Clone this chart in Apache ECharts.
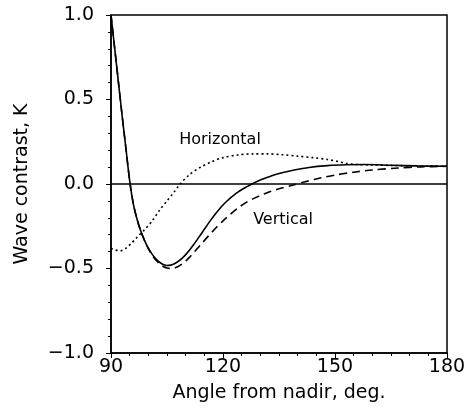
<!DOCTYPE html>
<html>
<head>
<meta charset="utf-8">
<script src="https://cdn.jsdelivr.net/npm/echarts@6/dist/echarts.min.js"></script>
<style>
  html, body { margin: 0; padding: 0; background: #fff; }
  #chart { width: 470px; height: 408px; }
</style>
</head>
<body>
<div id="chart"></div>
<script>
// Total wave contrast (solid)
const totalAngles = [90, 91, 92, 93, 94, 95, 96, 97, 98, 99, 100, 101, 102, 103, 104, 105, 106, 107, 108, 109, 110, 111, 112, 113, 114, 115, 116, 117, 118, 119, 120, 121, 122, 123, 124, 125, 126, 127, 128, 130, 132.6, 135, 138.8, 143, 148, 153, 158, 165, 172, 180];
const totalValues = [1.0, 0.80, 0.60, 0.40, 0.21, 0.02, -0.12, -0.21, -0.28, -0.335, -0.38, -0.415, -0.443, -0.463, -0.476, -0.482, -0.48, -0.472, -0.458, -0.44, -0.418, -0.392, -0.363, -0.332, -0.3, -0.268, -0.236, -0.205, -0.176, -0.149, -0.124, -0.102, -0.082, -0.064, -0.048, -0.034, -0.021, -0.009, 0.003, 0.024, 0.045, 0.062, 0.081, 0.098, 0.109, 0.114, 0.115, 0.111, 0.107, 0.105];

// Vertical polarization (dashed)
const verticalAngles = [90, 91, 92, 93, 94, 95, 96, 97, 98, 99, 100, 101, 102, 103, 104, 105, 106, 107, 108, 109, 110, 111, 112, 113, 114, 116, 118, 120, 122, 124, 126, 128, 130, 132, 134.4, 138.8, 142, 146, 150, 155, 160, 167, 173, 180];
const verticalValues = [1.0, 0.80, 0.60, 0.40, 0.21, 0.02, -0.12, -0.21, -0.28, -0.335, -0.382, -0.42, -0.45, -0.472, -0.488, -0.497, -0.5, -0.497, -0.488, -0.474, -0.456, -0.434, -0.41, -0.385, -0.36, -0.31, -0.262, -0.218, -0.178, -0.142, -0.112, -0.088, -0.068, -0.05, -0.032, -0.006, 0.013, 0.035, 0.053, 0.07, 0.083, 0.095, 0.101, 0.105];

// Horizontal polarization (dotted)
const horizontalAngles = [90, 91, 92.5, 94, 95.5, 97, 99, 101, 103, 105, 107, 108.5, 111, 114, 117, 120, 124, 128, 132, 136, 140, 144, 148, 151, 153, 156, 160, 165, 172, 180];
const horizontalValues = [-0.38, -0.39, -0.395, -0.38, -0.35, -0.315, -0.27, -0.22, -0.155, -0.1, -0.045, 0.0, 0.055, 0.1, 0.132, 0.156, 0.172, 0.178, 0.178, 0.173, 0.165, 0.156, 0.145, 0.132, 0.122, 0.115, 0.113, 0.11, 0.107, 0.105];

const xTicks = [90, 120, 150, 180];
const yTicks = [-1.0, -0.5, 0.0, 0.5, 1.0];

const curveLabels = [
  { text: 'Horizontal', coord: [119.2, 0.26] },
  { text: 'Vertical', coord: [136.1, -0.213] }
];

const FONT = 'DejaVu Sans';
const pairs = (xs, ys) => xs.map((x, i) => [x, ys[i]]);

const chart = echarts.init(document.getElementById('chart'), null, { renderer: 'canvas' });

chart.setOption({
  animation: false,
  backgroundColor: '#fff',
  grid: {
    left: 111, right: 23, top: 15, bottom: 55,
    show: true, borderColor: '#000', borderWidth: 1.5, backgroundColor: 'transparent'
  },
  xAxis: {
    type: 'value',
    min: xTicks[0], max: xTicks[xTicks.length - 1], interval: 30,
    name: 'Angle from nadir, deg.',
    nameLocation: 'middle', nameGap: 31,
    nameTextStyle: { fontFamily: FONT, fontSize: 19, color: '#000' },
    axisLine: { show: true, onZero: false, lineStyle: { color: '#000', width: 1.5 } },
    axisTick: { show: true, inside: false, length: 5, lineStyle: { color: '#000' } },
    minorTick: { show: true, splitNumber: 6, length: 3, lineStyle: { color: '#000' } },
    axisLabel: { fontFamily: FONT, fontSize: 19, color: '#000', margin: 5,
      formatter: v => xTicks.includes(v) ? String(v) : '' },
    splitLine: { show: false }
  },
  yAxis: {
    type: 'value',
    min: yTicks[0], max: yTicks[yTicks.length - 1], interval: 0.5,
    name: 'Wave contrast, K',
    nameLocation: 'middle', nameGap: 79, nameRotate: 90,
    nameTextStyle: { fontFamily: FONT, fontSize: 19, color: '#000' },
    axisLine: { show: true, onZero: false, lineStyle: { color: '#000', width: 1.5 } },
    axisTick: { show: true, inside: false, length: 5, lineStyle: { color: '#000' } },
    minorTick: { show: true, splitNumber: 5, length: 3, lineStyle: { color: '#000' } },
    axisLabel: { fontFamily: FONT, fontSize: 19, color: '#000', margin: 17,
      formatter: v => (v < 0 ? '\u2212' + Math.abs(v).toFixed(1) : v.toFixed(1)) },
    splitLine: { show: false }
  },
  series: [
    {
      name: 'Total', type: 'line', data: pairs(totalAngles, totalValues),
      smooth: 0.3, showSymbol: false, symbol: 'none',
      lineStyle: { color: '#000', width: 1.6, type: 'solid' },
      markLine: {
        silent: true, symbol: 'none', label: { show: false },
        lineStyle: { color: '#000', width: 1.5, type: 'solid' },
        data: [{ yAxis: 0 }]
      },
      z: 3
    },
    {
      name: 'Vertical', type: 'line', data: pairs(verticalAngles, verticalValues),
      smooth: 0.3, showSymbol: false, symbol: 'none',
      lineStyle: { color: '#000', width: 1.6, type: [8, 5] },
      markPoint: {
        symbol: 'circle', symbolSize: 0,
        label: { show: true, fontFamily: FONT, fontSize: 16, color: '#000',
          formatter: p => p.name, position: 'inside' },
        data: curveLabels.map(l => ({ name: l.text, coord: l.coord }))
      },
      z: 2
    },
    {
      name: 'Horizontal', type: 'line', data: pairs(horizontalAngles, horizontalValues),
      smooth: 0.3, showSymbol: false, symbol: 'none',
      lineStyle: { color: '#000', width: 1.6, type: [2, 3] },
      z: 2
    }
  ]
});
</script>
</body>
</html>
